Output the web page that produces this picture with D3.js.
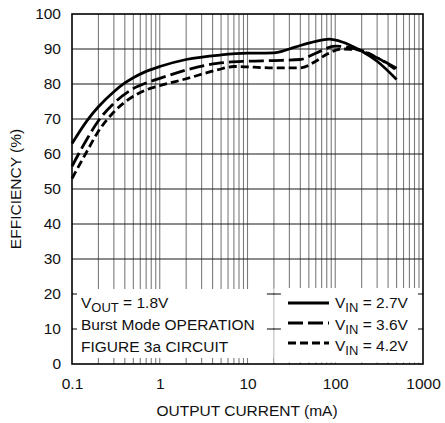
<!DOCTYPE html>
<html lang="en">
<head>
<meta charset="utf-8">
<script src="https://d3js.org/d3.v7.min.js"></script>
<style>
  body { margin:0; background:#fff; }
  svg { display:block; }
  text { font-family:"Liberation Sans", Arial, Helvetica, sans-serif; font-size:15.5px; fill:#111; }
</style>
<title>Efficiency vs Output Current</title>
</head>
<body>
<script>
// data
const current27 = [0.1, 0.15, 0.2, 0.3, 0.4, 0.5, 0.7, 1, 2, 5, 10, 20, 30, 40, 60, 85, 120, 190, 300, 500];
const eff27     = [63, 69.7, 73.5, 77.8, 80.3, 81.8, 83.6, 85, 87, 88.3, 88.8, 88.9, 90, 91, 92.2, 92.8, 92, 89.7, 86.5, 81.3];
const current36 = [0.1, 0.15, 0.2, 0.3, 0.5, 0.7, 1, 2, 4.5, 10, 20, 40, 60, 100, 140, 190, 300, 500];
const eff36     = [56.5, 64.5, 69.5, 74.5, 78.7, 80.3, 81.6, 84, 85.9, 86.5, 86.7, 87, 88.8, 90.8, 90.5, 89.7, 87.5, 84.5];
const current42 = [0.1, 0.15, 0.2, 0.3, 0.5, 0.7, 1, 2, 4.5, 7, 20, 40, 60, 80, 120, 190, 300, 500];
const eff42     = [53, 61, 66.5, 72, 76.5, 78.3, 79.5, 81.5, 84, 85, 84.6, 84.6, 86.5, 88.5, 90, 89.7, 87.5, 84];
const seriesLabels = ["2.7V", "3.6V", "4.2V"];
const yTicks = [0, 10, 20, 30, 40, 50, 60, 70, 80, 90, 100];
const xTicks = [0.1, 1, 10, 100, 1000];
const noteLines = ["1.8V", "Burst Mode OPERATION", "FIGURE 3a CIRCUIT"];

const dashes = [null, "15,5", "8,4"];

const W = 445, H = 423;
const svg = d3.select("body").append("svg").attr("width", W).attr("height", H);

const x = d3.scaleLog().domain([0.1, 1000]).range([72, 423]);
const y = d3.scaleLinear().domain([0, 100]).range([364, 14]);

// vertical grid: 1..9 x each decade
let vgrid = [];
[0.1, 1, 10, 100].forEach(d => { for (let k = 1; k < 10; k++) vgrid.push(d * k); });
vgrid = vgrid.filter(v => v > 0.1 && v < 1000);

svg.append("g").selectAll("line").data(vgrid).enter().append("line")
  .attr("x1", d => x(d)).attr("x2", d => x(d))
  .attr("y1", y(100)).attr("y2", y(0))
  .attr("stroke", "#7c7c7c").attr("stroke-width", 1.1);

svg.append("g").selectAll("line").data(yTicks.slice(1, -1)).enter().append("line")
  .attr("x1", x(0.1)).attr("x2", x(1000))
  .attr("y1", d => y(d)).attr("y2", d => y(d))
  .attr("stroke", "#1a1a1a").attr("stroke-width", 1.1);

// curves
const line = d3.line().x(d => x(d[0])).y(d => y(d[1])).curve(d3.curveMonotoneX);
const series = [d3.zip(current27, eff27), d3.zip(current36, eff36), d3.zip(current42, eff42)];
svg.append("g").selectAll("path").data(series).enter().append("path")
  .attr("d", line)
  .attr("fill", "none").attr("stroke", "#000").attr("stroke-width", 2.8)
  .attr("stroke-dasharray", (d, i) => dashes[i]);

// white note boxes over the bottom of the grid
svg.append("rect").attr("x", x(0.1) + 1).attr("y", 289).attr("width", x(20) - x(0.1) - 1.5).attr("height", 69).attr("fill", "#fff");
svg.append("rect").attr("x", x(20) + 0.5).attr("y", 288).attr("width", x(1000) - x(20) - 1.5).attr("height", 74.5).attr("fill", "#fff");

// short grid ticks left inside the boxes
[10, 20].forEach(v => {
  [[x(0.1), x(0.1) + 5], [x(20) - 7, x(20) + 7], [x(1000) - 5, x(1000)]].forEach(s => {
    svg.append("line").attr("x1", s[0]).attr("x2", s[1]).attr("y1", y(v)).attr("y2", y(v))
      .attr("stroke", "#1a1a1a").attr("stroke-width", 1.1);
  });
});

// frame
svg.append("rect").attr("x", x(0.1)).attr("y", y(100))
  .attr("width", x(1000) - x(0.1)).attr("height", y(0) - y(100))
  .attr("fill", "none").attr("stroke", "#000").attr("stroke-width", 1.6);

// axes labels
const yAxis = d3.axisLeft(y).tickValues(yTicks).tickSize(0).tickPadding(11);
svg.append("g").attr("transform", `translate(${x(0.1)},0)`).call(yAxis)
  .call(g => g.select(".domain").remove())
  .selectAll("text").attr("font-size", null).attr("font-family", null).attr("fill", "#111");

const xAxis = d3.axisBottom(x).tickValues(xTicks).tickSize(0).tickPadding(14)
  .tickFormat(d => d < 1 ? "0.1" : String(d));
svg.append("g").attr("transform", `translate(0,${y(0)})`).call(xAxis)
  .call(g => g.select(".domain").remove())
  .selectAll("text").attr("font-size", null).attr("font-family", null).attr("fill", "#111");

svg.append("text").attr("x", 247).attr("y", 416).attr("text-anchor", "middle")
  .text("OUTPUT CURRENT (mA)");
svg.append("text").attr("transform", "translate(20.5,189) rotate(-90)").attr("text-anchor", "middle")
  .text("EFFICIENCY (%)");

// note text
const note = svg.append("g");
const t0 = note.append("text").attr("x", 81).attr("y", 308);
t0.append("tspan").text("V");
t0.append("tspan").attr("font-size", "13px").attr("dy", 4).text("OUT");
t0.append("tspan").attr("dy", -4).text(" = " + noteLines[0]);
note.append("text").attr("x", 81).attr("y", 330).text(noteLines[1]);
note.append("text").attr("x", 81).attr("y", 352).text(noteLines[2]);

// legend
const leg = svg.append("g").selectAll("g").data(seriesLabels).enter().append("g")
  .attr("transform", (d, i) => `translate(0,${303 + i * 20})`);
leg.append("line").attr("x1", 288).attr("x2", 329).attr("y1", 0).attr("y2", 0)
  .attr("stroke", "#000").attr("stroke-width", 2.8)
  .attr("stroke-dasharray", (d, i) => dashes[i]);
const lt = leg.append("text").attr("x", 335).attr("y", (d, i) => 5 + i * 1.5);
lt.append("tspan").text("V");
lt.append("tspan").attr("font-size", "13px").attr("dy", 4).text("IN");
lt.append("tspan").attr("dy", -4).text(d => " = " + d);
</script>
</body>
</html>
